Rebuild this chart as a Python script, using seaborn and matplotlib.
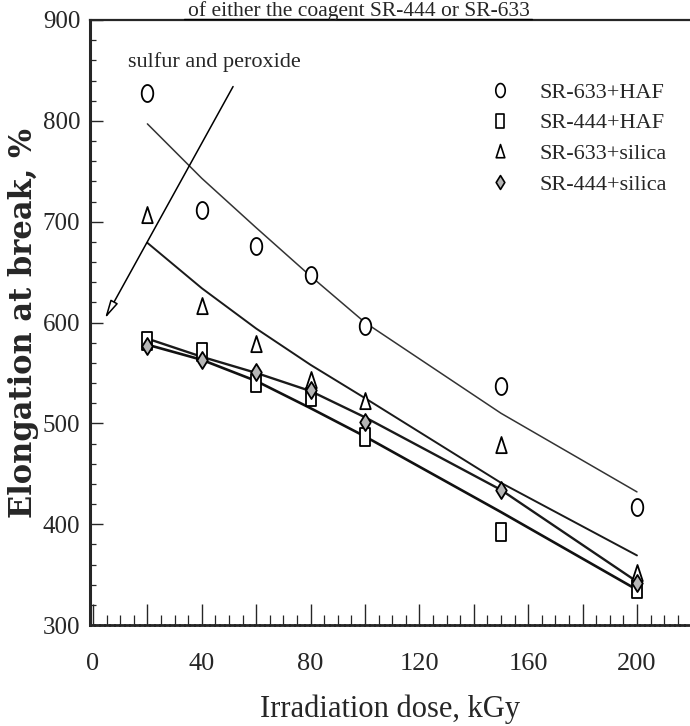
import numpy as np
import pandas as pd
import matplotlib
matplotlib.use("Agg")
import matplotlib.pyplot as plt
from matplotlib.path import Path
from matplotlib.lines import Line2D
from matplotlib.ticker import MultipleLocator, FuncFormatter
import seaborn as sns

# ---------------- data ----------------
dose = [20, 40, 60, 80, 100, 150, 200]
series_names = ["SR-633+HAF", "SR-444+HAF", "SR-633+silica", "SR-444+silica"]
sr633_haf = [828, 712, 676, 647, 597, 537, 417]
sr444_haf = [582, 571, 540, 526, 486, 392, 336]
sr633_silica = [707, 616, 579, 543, 522, 479, 352]
sr444_silica = [577, 563, 551, 533, 501, 434, 342]

# trend lines drawn in the figure (values read at the same doses)
fit_633_haf = [797, 743, 694, 646, 600, 510, 432]
fit_633_silica = [679, 634, 594, 558, 525, 441, 369]
line_444_silica = [584, 566, 550, 532, 506, 434, 343]
line_444_haf = [578, 563, 542, 515, 487, 412, 335]

x_ticks = [0, 40, 80, 120, 160, 200]
y_ticks = [300, 400, 500, 600, 700, 800, 900]

title_text = "of either the coagent SR-444 or SR-633"
annot_text = "sulfur and peroxide"
xlabel = "Irradiation dose, kGy"
ylabel = "Elongation at break, %"

# ---------------- tables ----------------
points = pd.DataFrame({
    "dose": dose * 4,
    "value": sr633_haf + sr444_haf + sr633_silica + sr444_silica,
    "series": sum([[n] * len(dose) for n in series_names], []),
})
lines = pd.DataFrame({
    "dose": dose * 4,
    "value": fit_633_haf + fit_633_silica + line_444_silica + line_444_haf,
    "line": sum([[n] * len(dose) for n in ["f633h", "f633s", "l444s", "l444h"]], []),
})

# ---------------- style ----------------
sns.set_style("ticks")
plt.rcParams["font.family"] = ["Liberation Serif", "DejaVu Serif"]
plt.rcParams["xtick.direction"] = "in"
plt.rcParams["ytick.direction"] = "in"

# marker shapes (tall, like the scanned symbols)
t = np.linspace(0, 2 * np.pi, 40)
ellipse = Path(np.column_stack([0.68 * np.cos(t), np.sin(t)]), closed=True)
rect = Path([(-0.62, -1), (0.62, -1), (0.62, 1), (-0.62, 1), (-0.62, -1)], closed=True)
tri = Path([(-0.62, -0.9), (0.62, -0.9), (0.0, 1.0), (-0.62, -0.9)], closed=True)
diam = Path([(0, -1), (0.62, 0), (0, 1), (-0.62, 0), (0, -1)], closed=True)
marker_map = {"SR-633+HAF": ellipse, "SR-444+HAF": rect,
              "SR-633+silica": tri, "SR-444+silica": diam}
face_map = {"SR-633+HAF": "white", "SR-444+HAF": "white",
            "SR-633+silica": "white", "SR-444+silica": "#b5b5b5"}

fig = plt.figure(figsize=(6.9, 7.26), dpi=100)
ax = fig.add_axes([90 / 690, 101 / 726, 600 / 690, 605 / 726])

# trend lines
lw_map = {"f633h": 1.1, "f633s": 1.4, "l444s": 1.7, "l444h": 1.9}
col_map = {"f633h": "#333333", "f633s": "#1a1a1a", "l444s": "#1a1a1a", "l444h": "#111111"}
for name, sub in lines.groupby("line", sort=False):
    sns.lineplot(data=sub, x="dose", y="value", ax=ax, color=col_map[name],
                 lw=lw_map[name], legend=False, zorder=2)

# markers
for name in series_names:
    sub = points[points["series"] == name]
    sns.scatterplot(data=sub, x="dose", y="value", ax=ax, marker=marker_map[name],
                    s=150, facecolor=face_map[name], edgecolor="black",
                    linewidth=1.3, zorder=3, legend=False)

ax.set_xlim(-1.1, 219.5)
ax.set_ylim(300, 900)

# ticks
ax.xaxis.set_major_locator(MultipleLocator(20))
ax.xaxis.set_minor_locator(MultipleLocator(5))
ax.xaxis.set_major_formatter(FuncFormatter(lambda v, p: f"{int(round(v))}" if int(round(v)) in x_ticks else ""))
ax.set_yticks(y_ticks)
ax.yaxis.set_minor_locator(MultipleLocator(20))
ax.tick_params(axis="x", which="major", length=15, width=1.0, pad=20, labelsize=19)
ax.tick_params(axis="x", which="minor", length=7, width=0.9)
ax.tick_params(axis="y", which="major", length=9, width=1.0, pad=7, labelsize=18)
ax.tick_params(axis="y", which="minor", length=4, width=0.9)

# spines
ax.spines["left"].set_linewidth(2.2)
ax.spines["bottom"].set_linewidth(2.0)
ax.spines["bottom"].set_linestyle((0, (1.2, 0.6)))
ax.spines["top"].set_visible(True)
ax.spines["top"].set_linewidth(1.6)
ax.spines["top"].set_linestyle((0, (1, 1)))
ax.spines["right"].set_visible(False)

ax.set_xlabel(xlabel, fontsize=22, labelpad=14)
ax.set_ylabel(ylabel, fontsize=22, family="DejaVu Serif", fontweight="bold", labelpad=3)

# annotation arrow
ax.annotate("", xy=(4.4, 604), xytext=(51.5, 834),
            arrowprops=dict(arrowstyle="-|>,head_length=1.1,head_width=0.25",
                            lw=1.1, color="black", fc="white", shrinkA=0, shrinkB=0))
ax.text(44.5, 858, annot_text, fontsize=16, ha="center", va="center")

# legend
handles = [Line2D([], [], ls="none", marker=marker_map[n], markersize=10,
                  markerfacecolor=face_map[n], markeredgecolor="black",
                  markeredgewidth=1.2) for n in series_names]
ax.legend(handles, series_names, loc="upper right", bbox_to_anchor=(0.995, 0.93),
          frameon=False, fontsize=16, handletextpad=1.3, labelspacing=0.45,
          handlelength=1.0)

# title fragment at the top
fig.text(0.52, 1 - 16 / 726, title_text, fontsize=15.5, ha="center", va="baseline")
fig.add_artist(Line2D([184 / 690, 532 / 690], [1 - 19 / 726] * 2, color="black", lw=1.0))

fig.savefig("out.png", dpi=100)
